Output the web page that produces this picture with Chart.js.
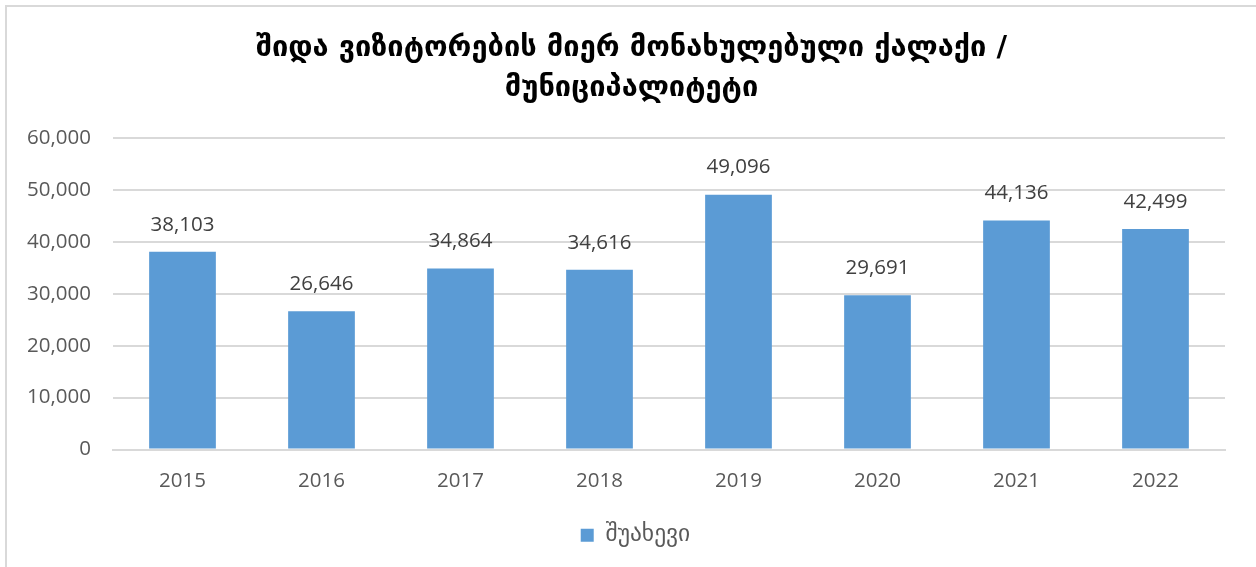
<!DOCTYPE html>
<html>
<head>
<meta charset="utf-8">
<script src="https://cdn.jsdelivr.net/npm/chart.js@4"></script>
<style>
  html, body { margin: 0; padding: 0; background: #fff; overflow: hidden; }
  #wrap { position: relative; width: 1256px; height: 567px; }
  #frame { position: absolute; left: 5px; top: 5px; width: 1400px; height: 700px;
           border: 2px solid #d9d9d9; pointer-events: none; }
</style>
</head>
<body>
<div id="wrap">
  <canvas id="myChart" width="1256" height="567"></canvas>
  <div id="frame"></div>
</div>
<script>
'use strict';

// years on the x axis
var years = ['2015', '2016', '2017', '2018', '2019', '2020', '2021', '2022'];
// visitors to Shuakhevi
var visitors = [38103, 26646, 34864, 34616, 49096, 29691, 44136, 42499];
var seriesName = 'შუახევი';
var titleLines = ['შიდა ვიზიტორების მიერ მონახულებული ქალაქი /', 'მუნიციპალიტეტი'];

var barColor = '#5B9BD5';
var textColor = '#595959';
var numFont = '"Open Sans", sans-serif';

// draws the number above each bar
var valueLabels = {
    id: 'valueLabels',
    afterDatasetsDraw: function(chart) {
        var ctx = chart.ctx;
        var meta = chart.getDatasetMeta(0);
        ctx.save();
        ctx.font = '20.5px ' + numFont;
        ctx.fillStyle = '#404040';
        ctx.textAlign = 'center';
        ctx.textBaseline = 'middle';
        meta.data.forEach(function(bar, i) {
            ctx.fillText(visitors[i].toLocaleString('en-US'), bar.x, bar.y - 27);
        });
        ctx.restore();
    }
};

// nudge title and legend to the right, they are centred on the page in the original
var centreBoxes = {
    id: 'centreBoxes',
    afterLayout: function(chart) {
        if (chart.titleBlock) {
            chart.titleBlock.left += 15;
            chart.titleBlock.right += 15;
        }
        if (chart.legend) {
            chart.legend.left += 19;
            chart.legend.right += 19;
        }
    }
};

function initChart() {
    var ctx = document.getElementById('myChart').getContext('2d');
    var data = {
        labels: years,
        datasets: [
            {
                label: seriesName,
                data: visitors,
                backgroundColor: barColor,
                borderWidth: 0,
                categoryPercentage: 1.0,
                barPercentage: 0.48
            }
        ]
    };
    var options = {
        responsive: false,
        animation: false,
        layout: {
            padding: { left: 8, right: 31, top: 28, bottom: 10 }
        },
        plugins: {
            title: {
                display: true,
                text: titleLines,
                color: '#000',
                font: { family: '"DejaVu Sans", sans-serif', size: 29, weight: 'bold', lineHeight: 1.38 },
                padding: { top: 0, bottom: 30 }
            },
            legend: {
                position: 'bottom',
                labels: {
                    color: textColor,
                    font: { family: '"DejaVu Sans", sans-serif', size: 23.5 },
                    boxWidth: 13,
                    boxHeight: 13,
                    padding: 5
                }
            },
            tooltip: { enabled: false }
        },
        scales: {
            x: {
                grid: { display: false },
                border: { color: '#d9d9d9', width: 2 },
                afterFit: function(scale) { scale.height = 69; },
                ticks: {
                    color: textColor,
                    font: { family: numFont, size: 20.5 },
                    padding: 11
                }
            },
            y: {
                min: 0,
                max: 60000,
                afterFit: function(scale) { scale.width = 105; },
                grid: { color: '#d9d9d9', lineWidth: 2, drawTicks: false },
                border: { display: false },
                ticks: {
                    stepSize: 10000,
                    color: textColor,
                    padding: 22,
                    font: { family: numFont, size: 20.5 },
                    callback: function(v) { return v.toLocaleString('en-US'); }
                }
            }
        }
    };
    new Chart(ctx, {
        type: 'bar',
        data: data,
        options: options,
        plugins: [valueLabels, centreBoxes]
    });
}

initChart();
</script>
</body>
</html>
